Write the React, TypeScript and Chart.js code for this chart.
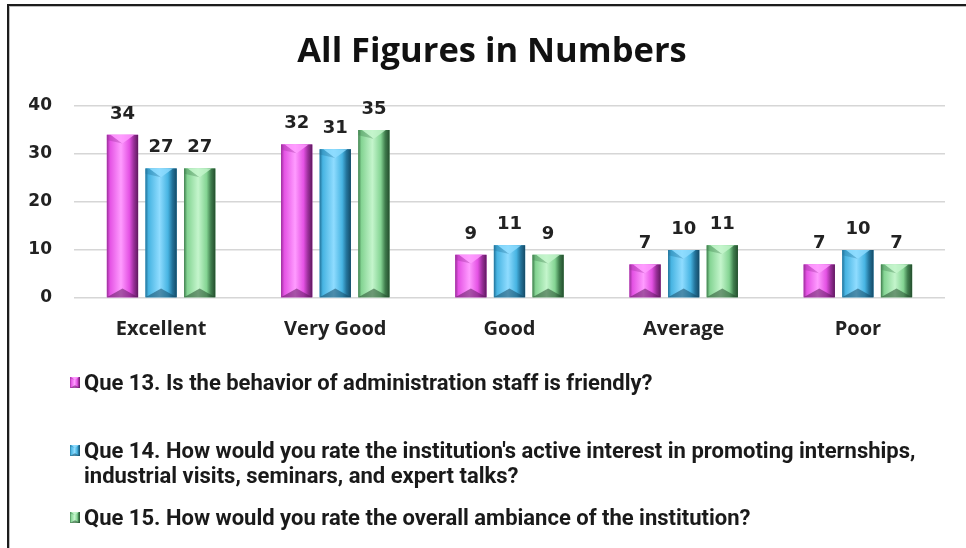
import React, { useEffect, useRef } from "react";
import { Chart, registerables } from "chart.js";

Chart.register(...registerables);

const categories = ["Excellent", "Very Good", "Good", "Average", "Poor"];
const que13Values = [34, 32, 9, 7, 7];
const que14Values = [27, 31, 11, 10, 10];
const que15Values = [27, 35, 9, 11, 7];
const seriesLabels = [
  "Que 13. Is the behavior of administration staff is friendly?",
  "Que 14. How would you rate the institution's active interest in promoting internships, industrial visits, seminars, and expert talks?",
  "Que 15. How would you rate the overall ambiance of the institution?",
];
const chartTitle = "All Figures in Numbers";
const yMax = 40;
const yStep = 10;

const palettes = [
  { base: "#e452e4", light: "#ff9cff", dark: "#9a2f9a", darkest: "#5e1a5e" },
  { base: "#47b4e2", light: "#8fdcff", dark: "#23739a", darkest: "#154a66" },
  { base: "#84d493", light: "#c4f5cc", dark: "#3f7d4d", darkest: "#244d2d" },
];

const LEGEND_FONT = "bold 22px Roboto, sans-serif";
const LABEL_FONT = "bold 18px 'DejaVu Sans', sans-serif";
const TITLE_FONT = "bold 34.5px 'Open Sans', sans-serif";

function bevelFill(ctx: CanvasRenderingContext2D, l: number, t: number, w: number, h: number, p: any) {
  const g = ctx.createLinearGradient(l, 0, l + w, 0);
  g.addColorStop(0, p.dark);
  g.addColorStop(0.1, p.base);
  g.addColorStop(0.45, p.light);
  g.addColorStop(0.72, p.base);
  g.addColorStop(0.86, p.dark);
  g.addColorStop(1, p.darkest);
  ctx.fillStyle = g;
  ctx.fillRect(l, t, w, h);
  const d = Math.min(w * 0.28, h / 2);
  ctx.globalAlpha = 0.35;
  ctx.fillStyle = p.dark;
  ctx.beginPath();
  ctx.moveTo(l, t);
  ctx.lineTo(l + w * 0.12, t);
  ctx.lineTo(l + w / 2, t + d);
  ctx.lineTo(l, t + d * 0.6);
  ctx.closePath();
  ctx.fill();
  ctx.globalAlpha = 0.8;
  ctx.fillStyle = p.light;
  ctx.beginPath();
  ctx.moveTo(l + w * 0.12, t);
  ctx.lineTo(l + w * 0.88, t);
  ctx.lineTo(l + w / 2, t + d);
  ctx.closePath();
  ctx.fill();
  ctx.globalAlpha = 0.55;
  ctx.fillStyle = p.darkest;
  ctx.beginPath();
  ctx.moveTo(l, t + h);
  ctx.lineTo(l + w, t + h);
  ctx.lineTo(l + w / 2, t + h - d);
  ctx.closePath();
  ctx.fill();
  ctx.globalAlpha = 1;
}

const bevelPlugin = {
  id: "bevelBars",
  afterDatasetsDraw(chart: any) {
    const ctx = chart.ctx as CanvasRenderingContext2D;
    ctx.save();
    chart.data.datasets.forEach((ds: any, i: number) => {
      const meta = chart.getDatasetMeta(i);
      meta.data.forEach((el: any, j: number) => {
        const { x, y, base, width } = el.getProps(["x", "y", "base", "width"], true);
        const l = x - width / 2;
        const t = Math.min(y, base);
        const h = Math.abs(base - y);
        bevelFill(ctx, l, t, width, h, palettes[i]);
        ctx.font = LABEL_FONT;
        ctx.fillStyle = "#222";
        ctx.textAlign = "center";
        ctx.textBaseline = "alphabetic";
        ctx.fillText(String(ds.data[j]), x, t - 16);
      });
    });
    ctx.restore();
  },
};

function wrapText(ctx: CanvasRenderingContext2D, text: string, maxW: number): string[] {
  const words = text.split(" ");
  const lines: string[] = [];
  let cur = "";
  for (const w of words) {
    const test = cur ? cur + " " + w : w;
    if (ctx.measureText(test).width > maxW && cur) {
      lines.push(cur);
      cur = w;
    } else cur = test;
  }
  if (cur) lines.push(cur);
  return lines;
}

const titleLegendPlugin = {
  id: "titleAndLegend",
  afterDraw(chart: any) {
    const ctx = chart.ctx as CanvasRenderingContext2D;
    ctx.save();
    // title
    ctx.font = TITLE_FONT;
    ctx.fillStyle = "#111";
    ctx.textAlign = "center";
    ctx.textBaseline = "alphabetic";
    ctx.fillText(chartTitle, 492, 62);
    // legend
    const itemBaselines = [390, 458, 525];
    const lineH = 25;
    ctx.font = LEGEND_FONT;
    ctx.textAlign = "left";
    chart.data.datasets.forEach((ds: any, i: number) => {
      const lines = wrapText(ctx, ds.label, 850);
      const by = itemBaselines[i];
      bevelFill(ctx, 70, by - 13, 10, 11, palettes[i]);
      ctx.fillStyle = "#1a1a1a";
      lines.forEach((ln, k) => ctx.fillText(ln, 84, by + k * lineH));
    });
    ctx.restore();
  },
};

export default function App() {
  const ref = useRef<HTMLCanvasElement | null>(null);
  useEffect(() => {
    if (!ref.current) return;
    const chart = new Chart(ref.current, {
      type: "bar",
      data: {
        labels: categories,
        datasets: [que13Values, que14Values, que15Values].map((vals, i) => ({
          label: seriesLabels[i],
          data: vals,
          backgroundColor: palettes[i].base,
          borderWidth: 0,
          categoryPercentage: 0.665,
          barPercentage: 0.81,
        })),
      },
      options: {
        responsive: false,
        animation: false,
        events: [],
        layout: { padding: { left: 24, right: 21, top: 106, bottom: 200 } },
        plugins: {
          legend: { display: false },
          tooltip: { enabled: false },
          title: { display: false },
        },
        scales: {
          x: {
            grid: { display: false },
            border: { display: false },
            ticks: {
              color: "#222",
              padding: 11,
              font: { family: "'Open Sans', sans-serif", size: 20, weight: "bold" },
            },
            afterFit(scale: any) {
              scale.height = 50;
            },
          },
          y: {
            min: 0,
            max: yMax,
            border: { display: false },
            grid: { color: "#d6d6d6", lineWidth: 1.5, drawTicks: false },
            ticks: {
              stepSize: yStep,
              color: "#222",
              padding: 22,
              font: { family: "'DejaVu Sans', sans-serif", size: 17, weight: "bold" },
            },
            afterFit(scale: any) {
              scale.width = 50;
            },
          },
        },
      },
      plugins: [bevelPlugin, titleLegendPlugin],
    });
    return () => chart.destroy();
  }, []);

  return (
    <div style={{ position: "absolute", left: 0, top: 0, width: 966, height: 548, background: "#fff" }}>
      <canvas ref={ref} width={966} height={548} style={{ width: 966, height: 548, display: "block" }} />
      <div
        style={{
          position: "absolute",
          left: 7,
          top: 4,
          width: 959,
          height: 544,
          borderTop: "2px solid #1c1c1c",
          borderLeft: "2px solid #1c1c1c",
          boxShadow: "inset 1px 1px 0 #bdbdbd",
          pointerEvents: "none",
        }}
      />
    </div>
  );
}
